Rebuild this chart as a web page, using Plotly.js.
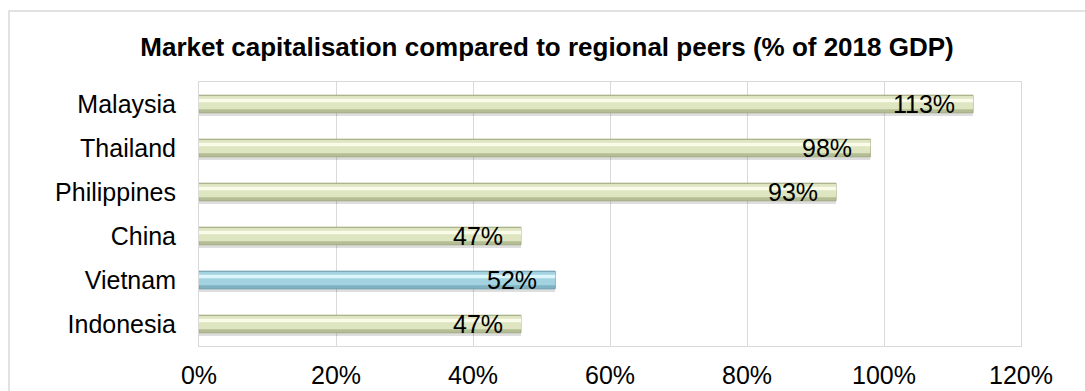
<!DOCTYPE html>
<html>
<head>
<meta charset="utf-8">
<script src="https://cdn.plot.ly/plotly-3.0.1.min.js"></script>
<style>html,body{margin:0;padding:0;background:#fff;}#chart{width:1085px;height:391px;}</style>
</head>
<body>
<div id="chart"></div>
<script>
// Data (bottom to top)
const countries = ["Indonesia", "Vietnam", "China", "Philippines", "Thailand", "Malaysia"];
const marketCap = [47, 52, 47, 93, 98, 113];
const highlightCountry = "Vietnam";
const xTicks = [0, 20, 40, 60, 80, 100, 120];
const xTickLabels = ["0%", "20%", "40%", "60%", "80%", "100%", "120%"];

const baseColors = countries.map(c => c === highlightCountry ? "#7fb3c3" : "#b4bd94");
const midColors = countries.map(c => c === highlightCountry ? "#a3d3e0" : "#dde5c1");
const lightColors = countries.map(c => c === highlightCountry ? "#dcf7fc" : "#fafce9");
const edgeColors = countries.map(c => c === highlightCountry ? "#6c9dad" : "#a0aa80");

const font = "Liberation Sans, Arial, sans-serif";

const shadow = {
  type: "bar", orientation: "h", x: marketCap, y: countries,
  width: 0.3, offset: -0.27,
  marker: {color: "rgba(0,0,0,0.13)", line: {width: 0}},
  hoverinfo: "skip", showlegend: false
};
const base = {
  type: "bar", orientation: "h", x: marketCap, y: countries,
  width: 0.4, offset: -0.2,
  marker: {color: baseColors, line: {color: edgeColors, width: 1}},
  hoverinfo: "x+y", showlegend: false
};
const mid = {
  type: "bar", orientation: "h", x: marketCap, y: countries,
  width: 0.3, offset: -0.12,
  marker: {color: midColors, line: {width: 0}},
  hoverinfo: "skip", showlegend: false
};
const light = {
  type: "bar", orientation: "h", x: marketCap, y: countries,
  width: 0.08, offset: 0.04,
  marker: {color: lightColors, line: {width: 0}},
  hoverinfo: "skip", showlegend: false
};

const annotations = countries.map((c, i) => ({
  x: marketCap[i], y: c, xref: "x", yref: "y",
  text: marketCap[i] + "%", showarrow: false,
  xanchor: "right", yanchor: "middle", xshift: -16, yshift: 0,
  font: {family: font, size: 25, color: "#000"}
}));

const W = 1085, H = 391;
const ml = 199, mr = 64, mt = 82, mb = 45;
const pw = W - ml - mr, ph = H - mt - mb;

const layout = {
  width: W, height: H,
  margin: {l: ml, r: mr, t: mt, b: mb, pad: 0},
  paper_bgcolor: "#ffffff", plot_bgcolor: "#ffffff",
  barmode: "overlay",
  title: {
    text: "<b>Market capitalisation compared to regional peers (% of 2018 GDP)</b>",
    font: {family: font, size: 26, color: "#000"},
    x: 547 / W, xanchor: "center", y: 1 - 47 / H, yanchor: "middle", xref: "container", yref: "container"
  },
  xaxis: {
    range: [0, 120], tickvals: xTicks, ticktext: xTickLabels,
    showgrid: true, gridcolor: "#d9d9d9", gridwidth: 1,
    zeroline: false, showline: true, linecolor: "#d9d9d9", linewidth: 1, mirror: true,
    ticks: "", ticklabelstandoff: 7,
    tickfont: {family: font, size: 25, color: "#000"}, fixedrange: true
  },
  yaxis: {
    type: "category", categoryorder: "array", categoryarray: countries,
    showgrid: false, zeroline: false, showline: true, linecolor: "#d9d9d9", linewidth: 1, mirror: true,
    ticks: "", ticklabelstandoff: 17,
    tickfont: {family: font, size: 25, color: "#000"}, fixedrange: true
  },
  annotations: annotations,
  shapes: [{
    type: "rect", xref: "paper", yref: "paper",
    x0: (9 - ml) / pw, x1: (W + 20 - ml) / pw,
    y0: -(H + 20 - mt - ph) / ph, y1: 1 + (mt - 11) / ph,
    line: {color: "#d9d9d9", width: 1.5}, fillcolor: "rgba(0,0,0,0)", layer: "below"
  }]
};

Plotly.newPlot("chart", [shadow, base, mid, light], layout, {displayModeBar: false, staticPlot: true});
</script>
</body>
</html>
